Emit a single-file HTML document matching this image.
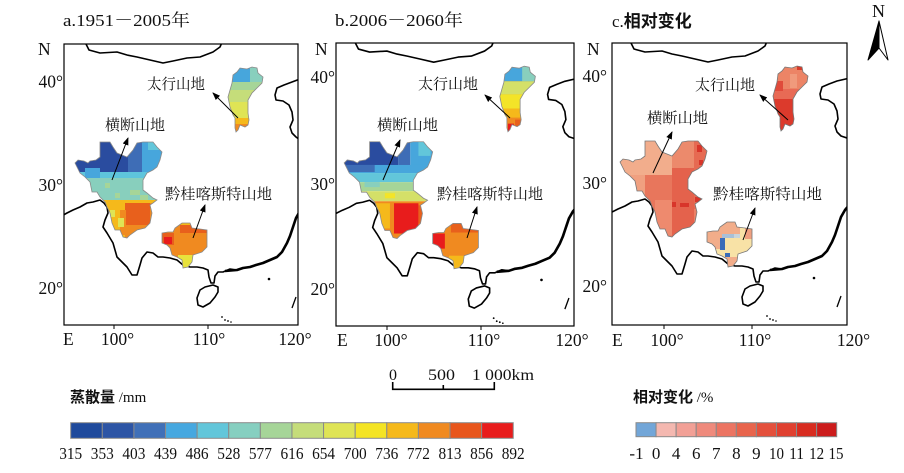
<!DOCTYPE html>
<html><head><meta charset="utf-8">
<style>
html,body{margin:0;padding:0;background:#fff;}
svg{display:block;}
.serif{font-family:"Liberation Serif","Noto Serif CJK SC",serif;}
.cjk{font-family:"Liberation Serif","Noto Serif CJK SC",serif;}
.sans{font-family:"Liberation Sans","Noto Sans CJK SC",sans-serif;}
</style></head><body>
<svg width="904" height="473" viewBox="0 0 904 473" xmlns="http://www.w3.org/2000/svg">
<defs>
  <clipPath id="fA"><rect x="64" y="44" width="234" height="281"/></clipPath>
  <clipPath id="fB"><rect x="336" y="43" width="238" height="283"/></clipPath>
  <clipPath id="fC"><rect x="612" y="43" width="235" height="282"/></clipPath>
  <clipPath id="cH"><polygon points="75,163 78,160 84,161 88,163 90,161 96,160 100,157 100,142 110,142 113,147 117,153 122,155 127,157 133,150 137,143 143,142 153,142 157,147 162,152 160,160 157,167 153,170 147,173 143,180 143,190 147,193 153,198 157,200 153,203 150,205 152,213 150,223 145,228 137,230 130,235 127,238 123,237 120,230 115,230 112,223 110,213 107,207 105,202 100,197 97,192 92,192 90,182 85,177 80,173 77,167"/></clipPath>
  <clipPath id="cT"><polygon points="237,72 240,68 247,69 252,67 257,68 258,73 263,77 262,83 257,88 252,93 248,100 248,113 249,120 248,125 245,127 240,125 238,130 236,132 235,128 235,118 233,115 232,112 230,107 228,97 230,90 232,83 233,75"/></clipPath>
  <clipPath id="cK"><polygon points="162,233 168,232 173,232 175,228 182,223 190,223 192,228 200,229 207,230 207,240 207,247 202,252 193,255 192,262 188,267 183,268 182,260 177,257 172,255 170,248 167,245 162,243 162,238"/></clipPath>
  <marker id="ah" markerWidth="8" markerHeight="6" refX="7" refY="3" orient="auto" markerUnits="userSpaceOnUse"><path d="M0,0 L8,3 L0,6 z" fill="#000"/></marker>
</defs>

<!-- ================= PANEL A ================= -->
<g clip-path="url(#fA)">
 <g>
  <g fill="none" stroke="#000" stroke-width="1.6" stroke-linejoin="round">
   <path d="M85,40 L86,44 L89,50 L100,53 L117,52 L127,55 L137,57 L150,60 L163,63 L173,61 L187,58 L200,57 L213,52 L220,47 L223,40"/>
   <path d="M300,79 L292,82 L284,85 L277,88 L275,95 L276,100 L283,101 L289,105 L292,112 L293,120 L290,127 L292,133 L296,137 L300,140"/>
   <path d="M60,217 L67,213 L73,210 L80,207 L87,203 L93,202 L100,200 L104,203 L107,207 L108,213 L105,220 L103,227 L107,233 L113,243 L115,250 L117,257 L122,262 L127,267 L132,275 L137,275 L140,265 L142,258 L147,252 L153,253 L158,257 L163,257 L170,258 L177,260 L183,265 L190,267 L197,267 L203,268 L208,270 L209,277 L211,283 L214,283 L215,276 L218,272 L223,272 L230,269 L237,270 L243,268 L250,267 L256,265 L263,263 L270,260 L277,257 L282,252 L287,243 L290,236 L292,230 L294,224 L296,218 L300,211"/>
   <path d="M225,271 L237,270 L243,268 L250,267 L256,265 L263,263 L270,260 L277,257 L282,252 L287,243 L290,236 L292,230 L294,224 L296,218 L300,211" stroke-width="2.6"/>
   <path d="M200,290 L205,287 L213,285 L218,287 L218,292 L215,297 L210,303 L203,307 L198,305 L197,298 Z" fill="#fff"/>
   <path d="M296,297 L292,308" stroke-width="1.3"/>
  </g>
  <g fill="#000"><circle cx="269" cy="279" r="1.3"/><circle cx="222" cy="317" r="0.9"/><circle cx="225" cy="320" r="0.9"/><circle cx="228" cy="321" r="0.9"/><circle cx="231" cy="322" r="0.8"/></g>
  <!-- Hengduan -->
  <g clip-path="url(#cH)">
   <rect x="70" y="135" width="58" height="38" fill="#2a4c9f"/>
   <rect x="128" y="135" width="14" height="38" fill="#3e6db6"/>
   <rect x="142" y="135" width="25" height="38" fill="#47a6dc"/>
   <rect x="148" y="140" width="14" height="10" fill="#62c6da"/>
   <rect x="70" y="172" width="97" height="6" fill="#5ec5dc"/>
   <rect x="85" y="168" width="15" height="10" fill="#47a6dc"/>
   <rect x="70" y="178" width="97" height="22" fill="#88cfbd"/>
   <rect x="105" y="183" width="5" height="5" fill="#a6d598"/>
   <rect x="130" y="190" width="10" height="5" fill="#a6d598"/>
   <rect x="115" y="193" width="5" height="5" fill="#a6d598"/>
   <rect x="140" y="195" width="8" height="5" fill="#a6d598"/>
   <rect x="70" y="200" width="97" height="45" fill="#f5b91b"/>
   <rect x="125" y="203" width="25" height="22" fill="#e8601c"/>
   <rect x="120" y="210" width="6" height="25" fill="#f08a20"/>
   <rect x="125" y="225" width="22" height="15" fill="#f08a20"/>
   <rect x="150" y="203" width="10" height="20" fill="#f08a20"/>
   <rect x="110" y="210" width="5" height="7" fill="#dfe455"/>
   <rect x="118" y="218" width="6" height="9" fill="#dfe455"/>
  </g>
  <!-- Taihang -->
  <g clip-path="url(#cT)">
   <rect x="225" y="60" width="45" height="80" fill="#f08a20"/>
   <rect x="225" y="60" width="45" height="22" fill="#47a6dc"/>
   <rect x="250" y="60" width="20" height="22" fill="#88cfbd"/>
   <rect x="225" y="82" width="45" height="8" fill="#a6d598"/>
   <rect x="225" y="90" width="45" height="12" fill="#c5dd7a"/>
   <rect x="225" y="102" width="45" height="16" fill="#dfe455"/>
   <rect x="225" y="118" width="45" height="6" fill="#f5b91b"/>
  </g>
  <!-- Karst -->
  <g clip-path="url(#cK)">
   <rect x="155" y="218" width="60" height="55" fill="#f08a20"/>
   <rect x="180" y="225" width="30" height="8" fill="#e8601c"/>
   <rect x="180" y="220" width="10" height="5" fill="#f5b91b"/>
   <rect x="160" y="233" width="14" height="12" fill="#e8601c"/>
   <rect x="164" y="237" width="8" height="7" fill="#e81c1c"/>
   <rect x="178" y="255" width="16" height="15" fill="#e8e23c"/>
  </g>
  <g fill="none" stroke="#8a8a8a" stroke-width="0.8">
   <use href="#dummy"/>
   <polygon points="75,163 78,160 84,161 88,163 90,161 96,160 100,157 100,142 110,142 113,147 117,153 122,155 127,157 133,150 137,143 143,142 153,142 157,147 162,152 160,160 157,167 153,170 147,173 143,180 143,190 147,193 153,198 157,200 153,203 150,205 152,213 150,223 145,228 137,230 130,235 127,238 123,237 120,230 115,230 112,223 110,213 107,207 105,202 100,197 97,192 92,192 90,182 85,177 80,173 77,167"/>
   <polygon points="237,72 240,68 247,69 252,67 257,68 258,73 263,77 262,83 257,88 252,93 248,100 248,113 249,120 248,125 245,127 240,125 238,130 236,132 235,128 235,118 233,115 232,112 230,107 228,97 230,90 232,83 233,75"/>
   <polygon points="162,233 168,232 173,232 175,228 182,223 190,223 192,228 200,229 207,230 207,240 207,247 202,252 193,255 192,262 188,267 183,268 182,260 177,257 172,255 170,248 167,245 162,243 162,238"/>
  </g>
 </g>
</g>
<rect x="64" y="44" width="234" height="281" fill="none" stroke="#000" stroke-width="1.2"/>

<!-- ================= PANEL B ================= -->
<g clip-path="url(#fB)">
 <g transform="translate(333,43) scale(1.017,1.008) translate(-64,-44)">
  <g fill="none" stroke="#000" stroke-width="1.6" stroke-linejoin="round">
   <path d="M85,40 L86,44 L89,50 L100,53 L117,52 L127,55 L137,57 L150,60 L163,63 L173,61 L187,58 L200,57 L213,52 L220,47 L223,40"/>
   <path d="M305,79 L292,82 L284,85 L277,88 L275,95 L276,100 L283,101 L289,105 L292,112 L293,120 L290,127 L292,133 L296,137 L305,140"/>
   <path d="M55,217 L67,213 L73,210 L80,207 L87,203 L93,202 L100,200 L104,203 L107,207 L108,213 L105,220 L103,227 L107,233 L113,243 L115,250 L117,257 L122,262 L127,267 L132,275 L137,275 L140,265 L142,258 L147,252 L153,253 L158,257 L163,257 L170,258 L177,260 L183,265 L190,267 L197,267 L203,268 L208,270 L209,277 L211,283 L214,283 L215,276 L218,272 L223,272 L230,269 L237,270 L243,268 L250,267 L256,265 L263,263 L270,260 L277,257 L282,252 L287,243 L290,236 L292,230 L294,224 L296,218 L300,211 L305,205"/>
   <path d="M225,271 L237,270 L243,268 L250,267 L256,265 L263,263 L270,260 L277,257 L282,252 L287,243 L290,236 L292,230 L294,224 L296,218 L300,211 L305,205" stroke-width="2.6"/>
   <path d="M200,290 L205,287 L213,285 L218,287 L218,292 L215,297 L210,303 L203,307 L198,305 L197,298 Z" fill="#fff"/>
   <path d="M296,297 L292,308" stroke-width="1.3"/>
  </g>
  <g fill="#000"><circle cx="269" cy="279" r="1.3"/><circle cx="222" cy="317" r="0.9"/><circle cx="225" cy="320" r="0.9"/><circle cx="228" cy="321" r="0.9"/><circle cx="231" cy="322" r="0.8"/></g>
  <g clip-path="url(#cH)">
   <rect x="70" y="135" width="58" height="32" fill="#2a4c9f"/>
   <rect x="128" y="135" width="12" height="32" fill="#3e6db6"/>
   <rect x="140" y="135" width="27" height="32" fill="#47a6dc"/>
   <rect x="148" y="138" width="12" height="18" fill="#62c6da"/>
   <rect x="70" y="165" width="97" height="8" fill="#47a6dc"/>
   <rect x="70" y="165" width="35" height="7" fill="#3e6db6"/>
   <rect x="70" y="173" width="97" height="9" fill="#62c6da"/>
   <rect x="70" y="182" width="97" height="9" fill="#a6d598"/>
   <rect x="95" y="182" width="15" height="5" fill="#88cfbd"/>
   <rect x="70" y="191" width="97" height="10" fill="#d4e068"/>
   <rect x="115" y="193" width="10" height="5" fill="#f3e428"/>
   <rect x="70" y="201" width="97" height="45" fill="#f08a20"/>
   <rect x="104" y="203" width="16" height="25" fill="#f5b91b"/>
   <rect x="124" y="203" width="24" height="30" fill="#e81c1c"/>
   <rect x="148" y="205" width="12" height="18" fill="#e8601c"/>
  </g>
  <g clip-path="url(#cT)">
   <rect x="225" y="60" width="45" height="80" fill="#f08a20"/>
   <rect x="225" y="60" width="45" height="22" fill="#47a6dc"/>
   <rect x="250" y="60" width="20" height="22" fill="#88cfbd"/>
   <rect x="225" y="82" width="45" height="13" fill="#d4e068"/>
   <rect x="225" y="95" width="45" height="14" fill="#f3e428"/>
   <rect x="225" y="109" width="45" height="9" fill="#f5b91b"/>
   <rect x="243" y="120" width="8" height="8" fill="#e8601c"/>
   <rect x="236" y="124" width="6" height="10" fill="#e81c1c"/>
  </g>
  <g clip-path="url(#cK)">
   <rect x="155" y="218" width="60" height="55" fill="#f08a20"/>
   <rect x="180" y="222" width="30" height="10" fill="#e8601c"/>
   <rect x="160" y="233" width="14" height="15" fill="#e81c1c"/>
   <rect x="178" y="255" width="16" height="15" fill="#f5b91b"/>
  </g>
  <g fill="none" stroke="#8a8a8a" stroke-width="0.8">
   <polygon points="75,163 78,160 84,161 88,163 90,161 96,160 100,157 100,142 110,142 113,147 117,153 122,155 127,157 133,150 137,143 143,142 153,142 157,147 162,152 160,160 157,167 153,170 147,173 143,180 143,190 147,193 153,198 157,200 153,203 150,205 152,213 150,223 145,228 137,230 130,235 127,238 123,237 120,230 115,230 112,223 110,213 107,207 105,202 100,197 97,192 92,192 90,182 85,177 80,173 77,167"/>
   <polygon points="237,72 240,68 247,69 252,67 257,68 258,73 263,77 262,83 257,88 252,93 248,100 248,113 249,120 248,125 245,127 240,125 238,130 236,132 235,128 235,118 233,115 232,112 230,107 228,97 230,90 232,83 233,75"/>
   <polygon points="162,233 168,232 173,232 175,228 182,223 190,223 192,228 200,229 207,230 207,240 207,247 202,252 193,255 192,262 188,267 183,268 182,260 177,257 172,255 170,248 167,245 162,243 162,238"/>
  </g>
 </g>
</g>
<rect x="336" y="43" width="238" height="283" fill="none" stroke="#000" stroke-width="1.2"/>

<!-- ================= PANEL C ================= -->
<g clip-path="url(#fC)">
 <g transform="translate(545,-1)">
  <g fill="none" stroke="#000" stroke-width="1.6" stroke-linejoin="round">
   <path d="M85,40 L86,44 L89,50 L100,53 L117,52 L127,55 L137,57 L150,60 L163,63 L173,61 L187,58 L200,57 L213,52 L220,47 L223,40"/>
   <path d="M305,79 L292,82 L284,85 L277,88 L275,95 L276,100 L283,101 L289,105 L292,112 L293,120 L290,127 L292,133 L296,137 L305,140"/>
   <path d="M55,217 L67,213 L73,210 L80,207 L87,203 L93,202 L100,200 L104,203 L107,207 L108,213 L105,220 L103,227 L107,233 L113,243 L115,250 L117,257 L122,262 L127,267 L132,275 L137,275 L140,265 L142,258 L147,252 L153,253 L158,257 L163,257 L170,258 L177,260 L183,265 L190,267 L197,267 L203,268 L208,270 L209,277 L211,283 L214,283 L215,276 L218,272 L223,272 L230,269 L237,270 L243,268 L250,267 L256,265 L263,263 L270,260 L277,257 L282,252 L287,243 L290,236 L292,230 L294,224 L296,218 L300,211 L305,205"/>
   <path d="M225,271 L237,270 L243,268 L250,267 L256,265 L263,263 L270,260 L277,257 L282,252 L287,243 L290,236 L292,230 L294,224 L296,218 L300,211 L305,205" stroke-width="2.6"/>
   <path d="M200,290 L205,287 L213,285 L218,287 L218,292 L215,297 L210,303 L203,307 L198,305 L197,298 Z" fill="#fff"/>
   <path d="M296,297 L292,308" stroke-width="1.3"/>
  </g>
  <g fill="#000"><circle cx="269" cy="279" r="1.3"/><circle cx="222" cy="317" r="0.9"/><circle cx="225" cy="320" r="0.9"/><circle cx="228" cy="321" r="0.9"/><circle cx="231" cy="322" r="0.8"/></g>
  <g clip-path="url(#cH)">
   <rect x="70" y="135" width="97" height="110" fill="#ec8066"/>
   <rect x="70" y="135" width="57" height="41" fill="#f2ad8c"/>
   <rect x="127" y="135" width="22" height="35" fill="#ec8a6c"/>
   <rect x="70" y="176" width="35" height="25" fill="#f0a080"/>
   <rect x="100" y="176" width="27" height="60" fill="#e8765c"/>
   <rect x="110" y="201" width="17" height="35" fill="#ee8a6e"/>
   <rect x="127" y="169" width="22" height="70" fill="#e4624c"/>
   <rect x="149" y="140" width="12" height="70" fill="#e66a52"/>
   <rect x="127" y="203" width="4" height="5" fill="#d8352a"/>
   <rect x="135" y="204" width="9" height="4" fill="#d8352a"/>
   <rect x="150" y="198" width="6" height="5" fill="#d8352a"/>
   <rect x="152" y="146" width="5" height="7" fill="#d8352a"/>
   <rect x="154" y="161" width="4" height="5" fill="#d8352a"/>
  </g>
  <g clip-path="url(#cT)">
   <rect x="225" y="60" width="45" height="80" fill="#e86a55"/>
   <rect x="225" y="60" width="45" height="30" fill="#ec8466"/>
   <rect x="245" y="75" width="7" height="14" fill="#f09a7c"/>
   <rect x="228" y="82" width="10" height="10" fill="#e04a3a"/>
   <rect x="225" y="100" width="25" height="40" fill="#dc3a2c"/>
   <rect x="252" y="66" width="5" height="5" fill="#d83a2a"/>
  </g>
  <g clip-path="url(#cK)">
   <rect x="155" y="218" width="60" height="55" fill="#f8e2a6"/>
   <rect x="155" y="218" width="40" height="18" fill="#f2ad8a"/>
   <rect x="155" y="236" width="22" height="14" fill="#f2ad8a"/>
   <rect x="178" y="258" width="24" height="14" fill="#f2ad8a"/>
   <rect x="200" y="225" width="10" height="15" fill="#f0a080"/>
   <rect x="177" y="235" width="12" height="4" fill="#a8c0d8"/>
   <rect x="189" y="235" width="6" height="4" fill="#c8d4dc"/>
   <rect x="175" y="239" width="5" height="12" fill="#3a6cb8"/>
   <rect x="180" y="254" width="5" height="4" fill="#3a6cb8"/>
  </g>
  <g fill="none" stroke="#777" stroke-width="0.8">
   <polygon points="75,163 78,160 84,161 88,163 90,161 96,160 100,157 100,142 110,142 113,147 117,153 122,155 127,157 133,150 137,143 143,142 153,142 157,147 162,152 160,160 157,167 153,170 147,173 143,180 143,190 147,193 153,198 157,200 153,203 150,205 152,213 150,223 145,228 137,230 130,235 127,238 123,237 120,230 115,230 112,223 110,213 107,207 105,202 100,197 97,192 92,192 90,182 85,177 80,173 77,167"/>
   <polygon points="237,72 240,68 247,69 252,67 257,68 258,73 263,77 262,83 257,88 252,93 248,100 248,113 249,120 248,125 245,127 240,125 238,130 236,132 235,128 235,118 233,115 232,112 230,107 228,97 230,90 232,83 233,75"/>
   <polygon points="162,233 168,232 173,232 175,228 182,223 190,223 192,228 200,229 207,230 207,240 207,247 202,252 193,255 192,262 188,267 183,268 182,260 177,257 172,255 170,248 167,245 162,243 162,238"/>
  </g>
 </g>
</g>
<rect x="612" y="43" width="235" height="282" fill="none" stroke="#000" stroke-width="1.2"/>

<!-- bottom ticks -->
<g stroke="#000" stroke-width="1">
 <path d="M114,325 V329 M208,325 V329 M387,326 V330 M481,326 V330 M664,325 V329 M752,325 V329"/>
</g>

<!-- arrows -->
<g stroke="#000" stroke-width="1" marker-end="url(#ah)">
 <line x1="238" y1="118" x2="213" y2="93"/>
 <line x1="112" y1="180" x2="128" y2="138"/>
 <line x1="193" y1="238" x2="205" y2="205"/>
 <line x1="510" y1="118" x2="485" y2="95"/>
 <line x1="383" y1="180" x2="400" y2="140"/>
 <line x1="467" y1="238" x2="477" y2="207"/>
 <line x1="788" y1="120" x2="760" y2="95"/>
 <line x1="653" y1="173" x2="672" y2="132"/>
 <line x1="743" y1="240" x2="755" y2="208"/>
</g>

<!-- map labels -->
<g class="cjk" font-size="15" fill="#111">
 <text x="147" y="89" textLength="58" lengthAdjust="spacingAndGlyphs">太行山地</text>
 <text x="105" y="130" textLength="60" lengthAdjust="spacingAndGlyphs">横断山地</text>
 <text x="165" y="199" textLength="107" lengthAdjust="spacingAndGlyphs">黔桂喀斯特山地</text>
 <text x="418" y="89" textLength="60" lengthAdjust="spacingAndGlyphs">太行山地</text>
 <text x="377" y="130" textLength="61" lengthAdjust="spacingAndGlyphs">横断山地</text>
 <text x="437" y="199" textLength="106" lengthAdjust="spacingAndGlyphs">黔桂喀斯特山地</text>
 <text x="695" y="90" textLength="60" lengthAdjust="spacingAndGlyphs">太行山地</text>
 <text x="647" y="123" textLength="61" lengthAdjust="spacingAndGlyphs">横断山地</text>
 <text x="713" y="199" textLength="109" lengthAdjust="spacingAndGlyphs">黔桂喀斯特山地</text>
</g>

<!-- titles -->
<g class="serif" font-size="17" fill="#111">
 <text x="63" y="26" textLength="127" lengthAdjust="spacingAndGlyphs">a.1951－2005年</text>
 <text x="335" y="26" textLength="128" lengthAdjust="spacingAndGlyphs">b.2006－2060年</text>
 <text x="612" y="27">c.<tspan font-family="Noto Sans CJK SC, sans-serif" font-weight="bold">相对变化</tspan></text>
</g>

<!-- tick labels -->
<g class="serif" font-size="17.5" fill="#111">
 <text x="38" y="55">N</text>
 <text x="63" y="87.5" text-anchor="end">40°</text>
 <text x="63" y="191" text-anchor="end">30°</text>
 <text x="63" y="294" text-anchor="end">20°</text>
 <text x="63" y="345">E</text>
 <text x="117.5" y="345" text-anchor="middle">100°</text>
 <text x="209" y="345" text-anchor="middle">110°</text>
 <text x="295" y="345" text-anchor="middle">120°</text>

 <text x="315" y="55">N</text>
 <text x="335" y="83" text-anchor="end">40°</text>
 <text x="335" y="190" text-anchor="end">30°</text>
 <text x="335" y="295" text-anchor="end">20°</text>
 <text x="337" y="346">E</text>
 <text x="391" y="346" text-anchor="middle">100°</text>
 <text x="484" y="346" text-anchor="middle">110°</text>
 <text x="572" y="346" text-anchor="middle">120°</text>

 <text x="587" y="55">N</text>
 <text x="607" y="82" text-anchor="end">40°</text>
 <text x="607" y="189" text-anchor="end">30°</text>
 <text x="607" y="292" text-anchor="end">20°</text>
 <text x="612" y="346">E</text>
 <text x="667" y="346" text-anchor="middle">100°</text>
 <text x="755" y="346" text-anchor="middle">110°</text>
 <text x="853.5" y="346" text-anchor="middle">120°</text>
</g>

<!-- north arrow -->
<text x="872" y="17" class="serif" font-size="18" fill="#111">N</text>
<polygon points="879,21 868,60 879,48" fill="#000" stroke="#000" stroke-width="1" stroke-linejoin="round"/>
<polygon points="879,21 888,60 879,48" fill="#fff" stroke="#000" stroke-width="1" stroke-linejoin="round"/>

<!-- scale bar -->
<g class="serif" font-size="16" fill="#111">
 <text x="389" y="380">0</text>
 <text x="428" y="380" textLength="27" lengthAdjust="spacingAndGlyphs">500</text>
 <text x="472" y="380" textLength="62" lengthAdjust="spacingAndGlyphs">1 000km</text>
</g>
<path d="M392.7,382 V389.3 H494.3 V382 M443.3,385 V389.3" fill="none" stroke="#000" stroke-width="1.6"/>

<!-- legend 1 -->
<text x="70" y="402" font-size="15" fill="#111"><tspan font-family="Noto Sans CJK SC, sans-serif" font-weight="bold">蒸散量</tspan><tspan font-family="Liberation Serif, serif"> /mm</tspan></text>
<g stroke="#8a8a8a" stroke-width="1">
 <rect x="70.7" y="422.7" width="31.61" height="15.6" fill="#1f4a9c"/>
 <rect x="102.31" y="422.7" width="31.61" height="15.6" fill="#2d55a5"/>
 <rect x="133.92" y="422.7" width="31.61" height="15.6" fill="#4070b8"/>
 <rect x="165.53" y="422.7" width="31.61" height="15.6" fill="#46a8e0"/>
 <rect x="197.14" y="422.7" width="31.61" height="15.6" fill="#62c6da"/>
 <rect x="228.75" y="422.7" width="31.61" height="15.6" fill="#86cfc0"/>
 <rect x="260.36" y="422.7" width="31.61" height="15.6" fill="#a6d598"/>
 <rect x="291.97" y="422.7" width="31.61" height="15.6" fill="#c5dd7a"/>
 <rect x="323.58" y="422.7" width="31.61" height="15.6" fill="#dfe455"/>
 <rect x="355.19" y="422.7" width="31.61" height="15.6" fill="#f4e424"/>
 <rect x="386.8" y="422.7" width="31.61" height="15.6" fill="#f5b91b"/>
 <rect x="418.41" y="422.7" width="31.61" height="15.6" fill="#f08a20"/>
 <rect x="450.02" y="422.7" width="31.61" height="15.6" fill="#e8561c"/>
 <rect x="481.63" y="422.7" width="31.61" height="15.6" fill="#e81c1c"/>
</g>
<g class="serif" font-size="17" fill="#111" text-anchor="middle">
 <text x="70.7" y="459" textLength="23" lengthAdjust="spacingAndGlyphs">315</text>
 <text x="102.3" y="459" textLength="23" lengthAdjust="spacingAndGlyphs">353</text>
 <text x="133.9" y="459" textLength="23" lengthAdjust="spacingAndGlyphs">403</text>
 <text x="165.5" y="459" textLength="23" lengthAdjust="spacingAndGlyphs">439</text>
 <text x="197.1" y="459" textLength="23" lengthAdjust="spacingAndGlyphs">486</text>
 <text x="228.8" y="459" textLength="23" lengthAdjust="spacingAndGlyphs">528</text>
 <text x="260.4" y="459" textLength="23" lengthAdjust="spacingAndGlyphs">577</text>
 <text x="292" y="459" textLength="23" lengthAdjust="spacingAndGlyphs">616</text>
 <text x="323.6" y="459" textLength="23" lengthAdjust="spacingAndGlyphs">654</text>
 <text x="355.2" y="459" textLength="23" lengthAdjust="spacingAndGlyphs">700</text>
 <text x="386.8" y="459" textLength="23" lengthAdjust="spacingAndGlyphs">736</text>
 <text x="418.4" y="459" textLength="23" lengthAdjust="spacingAndGlyphs">772</text>
 <text x="450" y="459" textLength="23" lengthAdjust="spacingAndGlyphs">813</text>
 <text x="481.6" y="459" textLength="23" lengthAdjust="spacingAndGlyphs">856</text>
 <text x="513.2" y="459" textLength="23" lengthAdjust="spacingAndGlyphs">892</text>
</g>

<!-- legend 2 -->
<text x="633" y="402" font-size="15" fill="#111"><tspan font-family="Noto Sans CJK SC, sans-serif" font-weight="bold">相对变化</tspan><tspan font-family="Liberation Serif, serif"> /%</tspan></text>
<g stroke="#8a8a8a" stroke-width="1">
 <rect x="636" y="422.7" width="20.07" height="14" fill="#72a6d8"/>
 <rect x="656.07" y="422.7" width="20.07" height="14" fill="#f4b8b0"/>
 <rect x="676.14" y="422.7" width="20.07" height="14" fill="#f2a096"/>
 <rect x="696.21" y="422.7" width="20.07" height="14" fill="#ef8a7c"/>
 <rect x="716.28" y="422.7" width="20.07" height="14" fill="#ec7462"/>
 <rect x="736.35" y="422.7" width="20.07" height="14" fill="#e8644c"/>
 <rect x="756.42" y="422.7" width="20.07" height="14" fill="#e4503c"/>
 <rect x="776.49" y="422.7" width="20.07" height="14" fill="#e04030"/>
 <rect x="796.56" y="422.7" width="20.07" height="14" fill="#d82c20"/>
 <rect x="816.63" y="422.7" width="20.07" height="14" fill="#cc1c1c"/>
</g>
<g class="serif" font-size="17" fill="#111" text-anchor="middle">
 <text x="636.5" y="459">-1</text>
 <text x="656.1" y="459">0</text>
 <text x="676.1" y="459">4</text>
 <text x="696.2" y="459">6</text>
 <text x="716.3" y="459">7</text>
 <text x="736.4" y="459">8</text>
 <text x="756.4" y="459">9</text>
 <text x="776.5" y="459" textLength="15" lengthAdjust="spacingAndGlyphs">10</text>
 <text x="796.6" y="459" textLength="15" lengthAdjust="spacingAndGlyphs">11</text>
 <text x="816.6" y="459" textLength="15" lengthAdjust="spacingAndGlyphs">12</text>
 <text x="836" y="459" textLength="15" lengthAdjust="spacingAndGlyphs">15</text>
</g>
</svg>
</body></html>
